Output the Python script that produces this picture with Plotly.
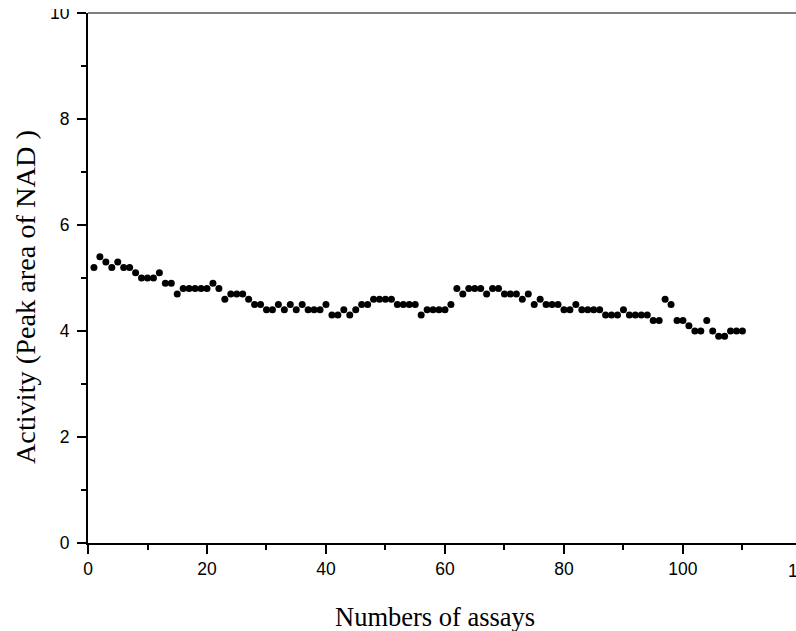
import plotly.graph_objects as go

# Assay number (x) and activity (peak area of NAD, y)
assays = [
    1, 2, 3, 4, 5, 6, 7, 8, 9, 10,
    11, 12, 13, 14, 15, 16, 17, 18, 19, 20,
    21, 22, 23, 24, 25, 26, 27, 28, 29, 30,
    31, 32, 33, 34, 35, 36, 37, 38, 39, 40,
    41, 42, 43, 44, 45, 46, 47, 48, 49, 50,
    51, 52, 53, 54, 55, 56, 57, 58, 59, 60,
    61, 62, 63, 64, 65, 66, 67, 68, 69, 70,
    71, 72, 73, 74, 75, 76, 77, 78, 79, 80,
    81, 82, 83, 84, 85, 86, 87, 88, 89, 90,
    91, 92, 93, 94, 95, 96, 97, 98, 99, 100,
    101, 102, 103, 104, 105, 106, 107, 108, 109, 110,
]
activity = [
    5.2, 5.4, 5.3, 5.2, 5.3, 5.2, 5.2, 5.1, 5.0, 5.0,
    5.0, 5.1, 4.9, 4.9, 4.7, 4.8, 4.8, 4.8, 4.8, 4.8,
    4.9, 4.8, 4.6, 4.7, 4.7, 4.7, 4.6, 4.5, 4.5, 4.4,
    4.4, 4.5, 4.4, 4.5, 4.4, 4.5, 4.4, 4.4, 4.4, 4.5,
    4.3, 4.3, 4.4, 4.3, 4.4, 4.5, 4.5, 4.6, 4.6, 4.6,
    4.6, 4.5, 4.5, 4.5, 4.5, 4.3, 4.4, 4.4, 4.4, 4.4,
    4.5, 4.8, 4.7, 4.8, 4.8, 4.8, 4.7, 4.8, 4.8, 4.7,
    4.7, 4.7, 4.6, 4.7, 4.5, 4.6, 4.5, 4.5, 4.5, 4.4,
    4.4, 4.5, 4.4, 4.4, 4.4, 4.4, 4.3, 4.3, 4.3, 4.4,
    4.3, 4.3, 4.3, 4.3, 4.2, 4.2, 4.6, 4.5, 4.2, 4.2,
    4.1, 4.0, 4.0, 4.2, 4.0, 3.9, 3.9, 4.0, 4.0, 4.0,
]
x_ticks = [0, 20, 40, 60, 80, 100]
y_ticks = [0, 2, 4, 6, 8, 10]
x_title = "Numbers of assays"
y_title = "Activity (Peak area of NAD )"

SANS = "Liberation Sans, Arial, sans-serif"
SERIF = "Liberation Serif, Times New Roman, serif"

fig = go.Figure(
    go.Scatter(
        x=assays, y=activity, mode="markers",
        marker=dict(color="black", size=7, line=dict(width=0)),
        showlegend=False,
    )
)

axis_common = dict(
    showgrid=False, zeroline=False, showline=True, linecolor="black",
    linewidth=2, ticks="outside", ticklen=9, tickwidth=1.5, tickcolor="black",
    tickfont=dict(family=SANS, size=17.5, color="black"),
)

fig.update_xaxes(
    range=[0, 119.0], tickvals=x_ticks, ticktext=[str(v) for v in x_ticks],
    minor=dict(dtick=10, tick0=0, ticks="outside", ticklen=5, tickwidth=1.5, tickcolor="black"),
    **axis_common,
)
fig.update_yaxes(
    range=[0, 10], tickvals=y_ticks, ticktext=[str(v) for v in y_ticks],
    minor=dict(dtick=1, tick0=0, ticks="outside", ticklen=5, tickwidth=1.5, tickcolor="black"),
    ticklabelstandoff=4,
    **axis_common,
)

fig.update_layout(
    width=796, height=631,
    margin=dict(l=88, r=0, t=13, b=88, pad=0),
    paper_bgcolor="white", plot_bgcolor="white",
    shapes=[
        # thin top frame line
        dict(type="line", xref="paper", yref="paper", x0=0, x1=1, y0=1, y1=1,
             line=dict(color="black", width=1.2), layer="above"),
        # crop of the top "10" label as in the source image
        dict(type="rect", xref="paper", yref="paper",
             x0=-0.07, x1=-0.006, y0=1.0075, y1=1.03,
             fillcolor="white", line=dict(width=0), layer="above"),
    ],
    annotations=[
        dict(text=x_title, xref="paper", yref="paper", x=0.49, y=-0.139,
             xanchor="center", yanchor="middle", showarrow=False,
             font=dict(family=SERIF, size=26.5, color="black")),
        dict(text=y_title, xref="paper", yref="paper", x=-0.089, y=0.464,
             xanchor="center", yanchor="middle", textangle=-90, showarrow=False,
             font=dict(family=SERIF, size=28.3, color="black")),
        dict(text="120", xref="paper", yref="paper", x=1.0085, y=-0.053,
             xanchor="center", yanchor="middle", showarrow=False,
             font=dict(family=SANS, size=17.5, color="black")),
    ],
)

fig.write_html(
    "out.html",
    config={"displayModeBar": False},
    post_script="document.body.style.margin='0';document.body.style.overflow='hidden';",
)
